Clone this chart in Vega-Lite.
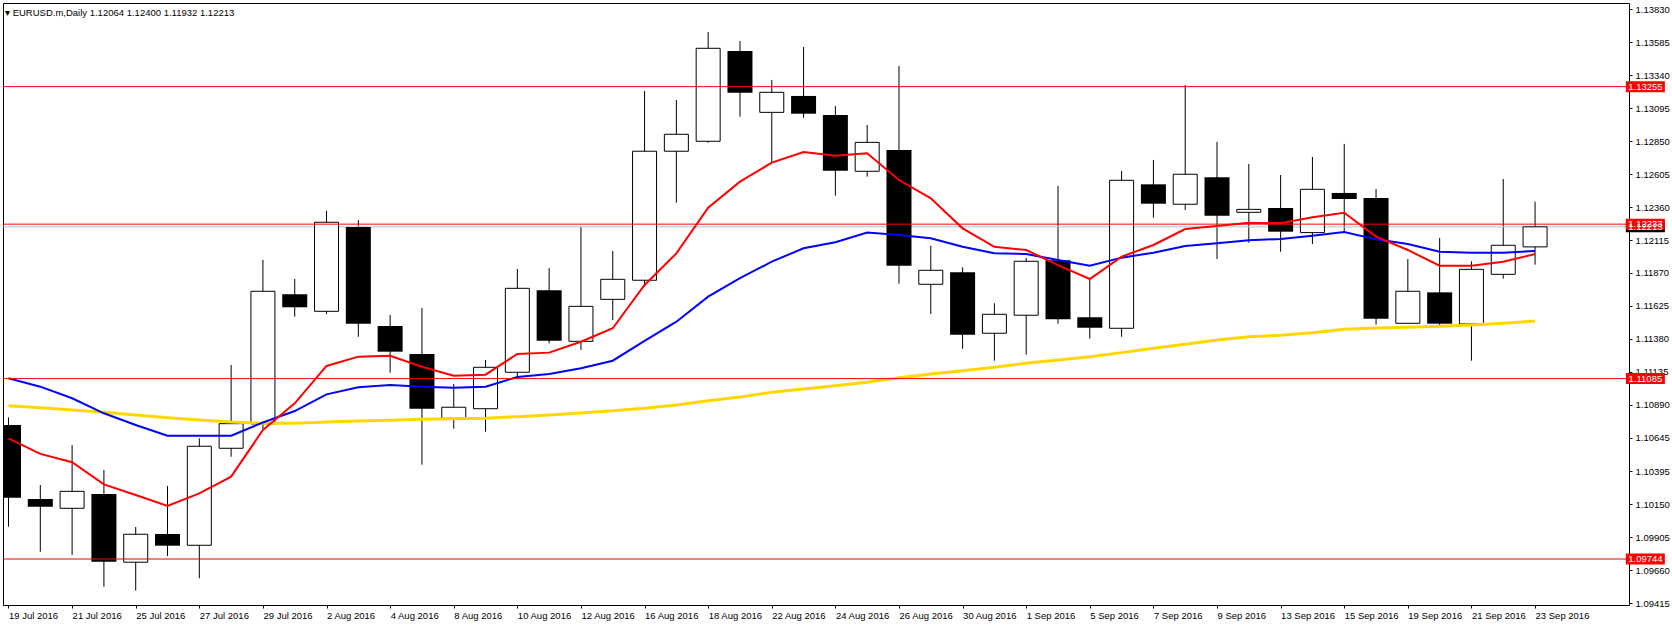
{
  "$schema": "https://vega.github.io/schema/vega-lite/v6.json",
  "width": 1626,
  "height": 602,
  "autosize": {"type": "none"},
  "padding": {"left": 3, "top": 3, "right": 43, "bottom": 22},
  "background": "#ffffff",
  "title": {
    "text": "▾ EURUSD.m,Daily  1.12064 1.12400 1.11932 1.12213",
    "anchor": "start",
    "frame": "group",
    "orient": "top",
    "offset": -14,
    "dx": 2,
    "font": "Liberation Sans",
    "fontSize": 9.5,
    "fontWeight": "normal",
    "color": "#000000"
  },
  "config": {
    "view": {"stroke": "#000000", "strokeWidth": 1},
    "font": "Liberation Sans",
    "axis": {"grid": false, "domain": false, "title": null, "labelFont": "Liberation Sans", "labelFontSize": 9.5, "labelColor": "#000000", "tickColor": "#000000", "zindex": 0, "labelOverlap": false, "labelFlush": false, "labelBound": false}
  },
  "datasets": {
    "candles": [
      {"date":"2016-07-19","i":0,"o":1.10740,"h":1.10797,"l":1.09984,"c":1.10200,"mr":1.10641,"mb":1.11087,"my":1.10884},
      {"date":"2016-07-20","i":1,"o":1.10190,"h":1.10294,"l":1.09798,"c":1.10133,"mr":1.10525,"mb":1.11025,"my":1.10869},
      {"date":"2016-07-21","i":2,"o":1.10121,"h":1.10591,"l":1.09774,"c":1.10247,"mr":1.10463,"mb":1.10939,"my":1.10852},
      {"date":"2016-07-22","i":3,"o":1.10227,"h":1.10406,"l":1.09538,"c":1.09724,"mr":1.10299,"mb":1.10827,"my":1.10835},
      {"date":"2016-07-25","i":4,"o":1.09720,"h":1.09982,"l":1.09509,"c":1.09928,"mr":1.10220,"mb":1.10740,"my":1.10814},
      {"date":"2016-07-26","i":5,"o":1.09930,"h":1.10287,"l":1.09766,"c":1.09843,"mr":1.10138,"mb":1.10661,"my":1.10794},
      {"date":"2016-07-27","i":6,"o":1.09846,"h":1.10641,"l":1.09601,"c":1.10582,"mr":1.10232,"mb":1.10661,"my":1.10777},
      {"date":"2016-07-28","i":7,"o":1.10567,"h":1.11186,"l":1.10504,"c":1.10750,"mr":1.10356,"mb":1.10661,"my":1.10762},
      {"date":"2016-07-29","i":8,"o":1.10748,"h":1.11967,"l":1.10708,"c":1.11734,"mr":1.10703,"mb":1.10759,"my":1.10753},
      {"date":"2016-08-01","i":9,"o":1.11712,"h":1.11825,"l":1.11545,"c":1.11615,"mr":1.10901,"mb":1.10844,"my":1.10753},
      {"date":"2016-08-02","i":10,"o":1.11585,"h":1.12331,"l":1.11565,"c":1.12247,"mr":1.11179,"mb":1.10968,"my":1.10762},
      {"date":"2016-08-03","i":11,"o":1.12212,"h":1.12264,"l":1.11396,"c":1.11493,"mr":1.11248,"mb":1.11020,"my":1.10770},
      {"date":"2016-08-04","i":12,"o":1.11476,"h":1.11558,"l":1.11129,"c":1.11285,"mr":1.11255,"mb":1.11037,"my":1.10775},
      {"date":"2016-08-05","i":13,"o":1.11268,"h":1.11610,"l":1.10445,"c":1.10861,"mr":1.11173,"mb":1.11025,"my":1.10783},
      {"date":"2016-08-08","i":14,"o":1.10790,"h":1.11045,"l":1.10713,"c":1.10872,"mr":1.11107,"mb":1.11017,"my":1.10787},
      {"date":"2016-08-09","i":15,"o":1.10861,"h":1.11223,"l":1.10690,"c":1.11169,"mr":1.11114,"mb":1.11025,"my":1.10791},
      {"date":"2016-08-10","i":16,"o":1.11132,"h":1.11900,"l":1.11099,"c":1.11756,"mr":1.11268,"mb":1.11097,"my":1.10802},
      {"date":"2016-08-11","i":17,"o":1.11741,"h":1.11907,"l":1.11347,"c":1.11367,"mr":1.11278,"mb":1.11119,"my":1.10814},
      {"date":"2016-08-12","i":18,"o":1.11362,"h":1.12212,"l":1.11298,"c":1.11622,"mr":1.11359,"mb":1.11162,"my":1.10829},
      {"date":"2016-08-15","i":19,"o":1.11674,"h":1.12033,"l":1.11521,"c":1.11823,"mr":1.11459,"mb":1.11218,"my":1.10846},
      {"date":"2016-08-16","i":20,"o":1.11816,"h":1.13223,"l":1.11768,"c":1.12775,"mr":1.11781,"mb":1.11365,"my":1.10864},
      {"date":"2016-08-17","i":21,"o":1.12775,"h":1.13156,"l":1.12392,"c":1.12901,"mr":1.12016,"mb":1.11508,"my":1.10889},
      {"date":"2016-08-18","i":22,"o":1.12849,"h":1.13661,"l":1.12838,"c":1.13540,"mr":1.12355,"mb":1.11694,"my":1.10921},
      {"date":"2016-08-19","i":23,"o":1.13520,"h":1.13594,"l":1.13032,"c":1.13210,"mr":1.12549,"mb":1.11831,"my":1.10948},
      {"date":"2016-08-22","i":24,"o":1.13064,"h":1.13305,"l":1.12697,"c":1.13213,"mr":1.12690,"mb":1.11954,"my":1.10983},
      {"date":"2016-08-23","i":25,"o":1.13186,"h":1.13550,"l":1.13024,"c":1.13054,"mr":1.12769,"mb":1.12054,"my":1.11008},
      {"date":"2016-08-24","i":26,"o":1.13044,"h":1.13111,"l":1.12445,"c":1.12630,"mr":1.12742,"mb":1.12098,"my":1.11032},
      {"date":"2016-08-25","i":27,"o":1.12626,"h":1.12970,"l":1.12586,"c":1.12841,"mr":1.12760,"mb":1.12170,"my":1.11058},
      {"date":"2016-08-26","i":28,"o":1.12784,"h":1.13409,"l":1.11790,"c":1.11924,"mr":1.12561,"mb":1.12152,"my":1.11092},
      {"date":"2016-08-29","i":29,"o":1.11786,"h":1.12071,"l":1.11565,"c":1.11890,"mr":1.12425,"mb":1.12128,"my":1.11119},
      {"date":"2016-08-30","i":30,"o":1.11875,"h":1.11912,"l":1.11307,"c":1.11411,"mr":1.12202,"mb":1.12065,"my":1.11144},
      {"date":"2016-08-31","i":31,"o":1.11422,"h":1.11645,"l":1.11218,"c":1.11563,"mr":1.12065,"mb":1.12016,"my":1.11169},
      {"date":"2016-09-01","i":32,"o":1.11556,"h":1.11981,"l":1.11263,"c":1.11957,"mr":1.12041,"mb":1.12011,"my":1.11199},
      {"date":"2016-09-02","i":33,"o":1.11964,"h":1.12517,"l":1.11493,"c":1.11526,"mr":1.11929,"mb":1.11967,"my":1.11223},
      {"date":"2016-09-05","i":34,"o":1.11541,"h":1.11825,"l":1.11382,"c":1.11463,"mr":1.11825,"mb":1.11924,"my":1.11248},
      {"date":"2016-09-06","i":35,"o":1.11459,"h":1.12628,"l":1.11396,"c":1.12559,"mr":1.11991,"mb":1.11984,"my":1.11278},
      {"date":"2016-09-07","i":36,"o":1.12529,"h":1.12710,"l":1.12281,"c":1.12385,"mr":1.12078,"mb":1.12021,"my":1.11310},
      {"date":"2016-09-08","i":37,"o":1.12381,"h":1.13267,"l":1.12338,"c":1.12604,"mr":1.12197,"mb":1.12071,"my":1.11340},
      {"date":"2016-09-09","i":38,"o":1.12581,"h":1.12844,"l":1.11974,"c":1.12296,"mr":1.12219,"mb":1.12091,"my":1.11372},
      {"date":"2016-09-12","i":39,"o":1.12321,"h":1.12680,"l":1.12095,"c":1.12343,"mr":1.12244,"mb":1.12113,"my":1.11396},
      {"date":"2016-09-13","i":40,"o":1.12353,"h":1.12598,"l":1.12028,"c":1.12177,"mr":1.12239,"mb":1.12123,"my":1.11407},
      {"date":"2016-09-14","i":41,"o":1.12170,"h":1.12732,"l":1.12086,"c":1.12492,"mr":1.12284,"mb":1.12147,"my":1.11426},
      {"date":"2016-09-15","i":42,"o":1.12465,"h":1.12829,"l":1.12177,"c":1.12420,"mr":1.12318,"mb":1.12175,"my":1.11451},
      {"date":"2016-09-16","i":43,"o":1.12427,"h":1.12494,"l":1.11486,"c":1.11530,"mr":1.12140,"mb":1.12120,"my":1.11461},
      {"date":"2016-09-19","i":44,"o":1.11496,"h":1.11974,"l":1.11496,"c":1.11734,"mr":1.12041,"mb":1.12086,"my":1.11466},
      {"date":"2016-09-20","i":45,"o":1.11726,"h":1.12130,"l":1.11483,"c":1.11493,"mr":1.11924,"mb":1.12028,"my":1.11474},
      {"date":"2016-09-21","i":46,"o":1.11491,"h":1.11957,"l":1.11218,"c":1.11897,"mr":1.11924,"mb":1.12021,"my":1.11483},
      {"date":"2016-09-22","i":47,"o":1.11860,"h":1.12569,"l":1.11828,"c":1.12076,"mr":1.11954,"mb":1.12021,"my":1.11496},
      {"date":"2016-09-23","i":48,"o":1.12064,"h":1.12400,"l":1.11932,"c":1.12213,"mr":1.12011,"mb":1.12033,"my":1.11513}
    ],
    "levels": [
      {"p": 1.12213, "kind": "bid"},
      {"p": 1.13255, "kind": "line"},
      {"p": 1.12233, "kind": "line"},
      {"p": 1.11085, "kind": "line"},
      {"p": 1.09744, "kind": "line"}
    ]
  },
  "layer": [
    {
      "data": {"name": "candles"},
      "mark": {"type": "rule", "color": "#000000", "strokeWidth": 1, "clip": true},
      "encoding": {
        "x": {
          "field": "i", "type": "quantitative",
          "scale": {"domain": [-0.015625, 50.796875], "nice": false, "zero": false},
          "axis": {
            "orient": "bottom",
            "values": [0,2,4,6,8,10,12,14,16,18,20,22,24,26,28,30,32,34,36,38,40,42,44,46,48],
            "tickCount": 100,
            "labelExpr": "['19 Jul 2016','21 Jul 2016','25 Jul 2016','27 Jul 2016','29 Jul 2016','2 Aug 2016','4 Aug 2016','8 Aug 2016','10 Aug 2016','12 Aug 2016','16 Aug 2016','18 Aug 2016','22 Aug 2016','24 Aug 2016','26 Aug 2016','30 Aug 2016','1 Sep 2016','5 Sep 2016','7 Sep 2016','9 Sep 2016','13 Sep 2016','15 Sep 2016','19 Sep 2016','21 Sep 2016','23 Sep 2016'][round(datum.value / 2)]",
            "labelAlign": "left",
            "labelBaseline": "top",
            "labelPadding": 2,
            "tickSize": 3,
            "labelFlush": false,
            "labelOverlap": false,
            "labelBound": false
          }
        },
        "y": {
          "field": "l", "type": "quantitative",
          "scale": {"domain": [1.094021, 1.138768], "nice": false, "zero": false},
          "axis": {
            "orient": "right",
            "values": [1.09415, 1.0966, 1.09905, 1.1015, 1.10395, 1.10645, 1.1089, 1.11135, 1.1138, 1.11625, 1.1187, 1.12115, 1.1236, 1.12605, 1.1285, 1.13095, 1.1334, 1.13585, 1.1383],
            "tickCount": 100,
            "format": ".5f",
            "tickSize": 3,
            "labelPadding": 3,
            "labelBaseline": "middle",
            "labelFlush": false,
            "labelOverlap": false,
            "labelBound": false
          }
        },
        "y2": {"field": "h"}
      }
    },
    {
      "data": {"name": "levels"},
      "transform": [{"filter": "datum.kind == 'bid'"}],
      "mark": {"type": "rule", "color": "#c0c0c0", "strokeWidth": 1},
      "encoding": {"y": {"field": "p", "type": "quantitative"}}
    },
    {
      "data": {"name": "candles"},
      "transform": [{"filter": "datum.c >= datum.o"}],
      "mark": {"type": "bar", "width": 24, "fill": "#ffffff", "stroke": "#000000", "strokeWidth": 1, "clip": true},
      "encoding": {
        "x": {"field": "i", "type": "quantitative"},
        "y": {"field": "o", "type": "quantitative"},
        "y2": {"field": "c"}
      }
    },
    {
      "data": {"name": "candles"},
      "transform": [{"filter": "datum.c < datum.o"}],
      "mark": {"type": "bar", "width": 25, "fill": "#000000", "clip": true},
      "encoding": {
        "x": {"field": "i", "type": "quantitative"},
        "y": {"field": "o", "type": "quantitative"},
        "y2": {"field": "c"}
      }
    },
    {
      "data": {"name": "candles"},
      "mark": {"type": "line", "color": "#ffd700", "strokeWidth": 3, "clip": true},
      "encoding": {
        "x": {"field": "i", "type": "quantitative"},
        "y": {"field": "my", "type": "quantitative"}
      }
    },
    {
      "data": {"name": "candles"},
      "mark": {"type": "line", "color": "#0000ff", "strokeWidth": 2, "clip": true},
      "encoding": {
        "x": {"field": "i", "type": "quantitative"},
        "y": {"field": "mb", "type": "quantitative"}
      }
    },
    {
      "data": {"name": "candles"},
      "mark": {"type": "line", "color": "#ff0000", "strokeWidth": 2, "clip": true},
      "encoding": {
        "x": {"field": "i", "type": "quantitative"},
        "y": {"field": "mr", "type": "quantitative"}
      }
    },
    {
      "data": {"name": "levels"},
      "transform": [{"filter": "datum.kind == 'line'"}],
      "mark": {"type": "rule", "color": "#ff0000", "strokeWidth": 1},
      "encoding": {"y": {"field": "p", "type": "quantitative"}}
    },
    {
      "data": {"name": "levels"},
      "mark": {"type": "point", "filled": true, "opacity": 1, "shape": "M-1,-0.282L1,-0.282L1,0.282L-1,0.282Z", "size": 1521, "strokeWidth": 0},
      "encoding": {
        "x": {"datum": 51.469},
        "y": {"field": "p", "type": "quantitative"},
        "color": {"field": "kind", "type": "nominal", "scale": {"domain": ["bid", "line"], "range": ["#000000", "#ff0000"]}, "legend": null}
      }
    },
    {
      "data": {"name": "levels"},
      "mark": {"type": "text", "color": "#ffffff", "font": "Liberation Sans", "fontSize": 9.5, "align": "center", "baseline": "middle"},
      "encoding": {
        "x": {"datum": 51.469},
        "y": {"field": "p", "type": "quantitative"},
        "text": {"field": "p", "type": "quantitative", "format": ".5f"}
      }
    }
  ]
}
